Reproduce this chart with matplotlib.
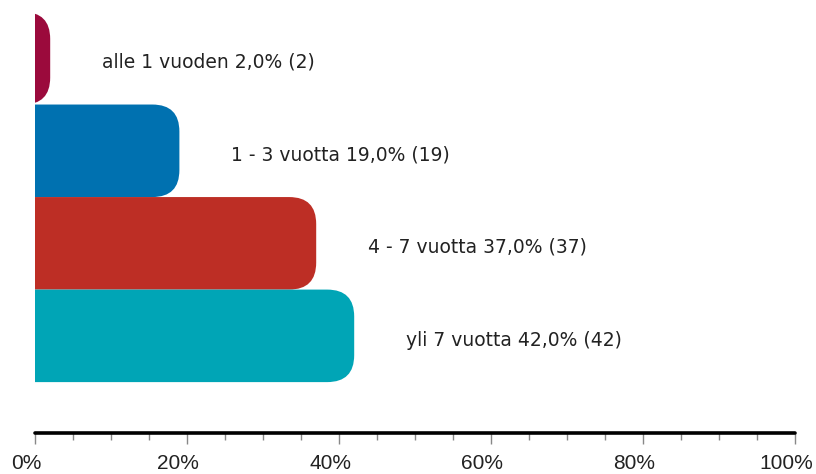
import numpy as np
import matplotlib
matplotlib.use('Agg')
import matplotlib.pyplot as plt
from matplotlib.patches import FancyBboxPatch
from matplotlib.transforms import ScaledTranslation

# Data
categories = ['alle 1 vuoden', '1 - 3 vuotta', '4 - 7 vuotta', 'yli 7 vuotta']
percents = [2.0, 19.0, 37.0, 42.0]
counts = [2, 19, 37, 42]
colors = ['#9B0A3C', '#0071B0', '#BD2E25', '#00A5B6']
tick_values = [0, 20, 40, 60, 80, 100]
tick_labels = ['0%', '20%', '40%', '60%', '80%', '100%']

plt.rcParams['font.family'] = ['Liberation Sans', 'DejaVu Sans']

fig = plt.figure(figsize=(8.16, 4.74), dpi=100)
ax = fig.add_axes([35 / 816, 41 / 474, 760 / 816, 421 / 474])

ax.set_xlim(0, 100)
ax.set_ylim(4.05, -0.5)

ypos = np.arange(len(categories))
bars = ax.barh(ypos, percents, height=1.0)

# px per data unit, used to keep corners circular
px_x = 760 / 100.0
px_y = 421 / 4.55
radius = 27 / px_x

for bar, col in zip(bars, colors):
    x0, y0 = bar.get_x(), bar.get_y()
    w, h = bar.get_width(), bar.get_height()
    bar.remove()
    # start the box left of the axes so only right corners show
    box = FancyBboxPatch((x0 - 10, y0), w + 10, h,
                         boxstyle='round,pad=0,rounding_size=%f' % radius,
                         mutation_aspect=px_x / px_y,
                         facecolor=col, edgecolor='none')
    ax.add_patch(box)

for y, p, c, name in zip(ypos, percents, counts, categories):
    txt = '%s %s%% (%d)' % (name, ('%.1f' % p).replace('.', ','), c)
    ax.annotate(txt, xy=(p, y), xytext=(37, -3), textcoords='offset points',
                va='center', ha='left', fontsize=13.5, color='#222222',
                family='DejaVu Sans')

for s in ['top', 'right', 'left']:
    ax.spines[s].set_visible(False)
ax.spines['bottom'].set_linewidth(2.6)
ax.spines['bottom'].set_color('black')
ax.spines['bottom'].set_capstyle('round')

ax.set_yticks([])
ax.set_xticks(tick_values)
ax.set_xticklabels(tick_labels)
ax.set_xticks(np.arange(0, 101, 5), minor=True)
ax.tick_params(axis='x', which='major', length=8, width=1, color='#888888',
               pad=7, labelsize=15, labelcolor='#222222')
ax.tick_params(axis='x', which='minor', length=5, width=1, color='#888888')

shift = ScaledTranslation(-0.09, 0, fig.dpi_scale_trans)
for lab in ax.get_xticklabels():
    lab.set_transform(lab.get_transform() + shift)

fig.savefig('out.png', dpi=100)
